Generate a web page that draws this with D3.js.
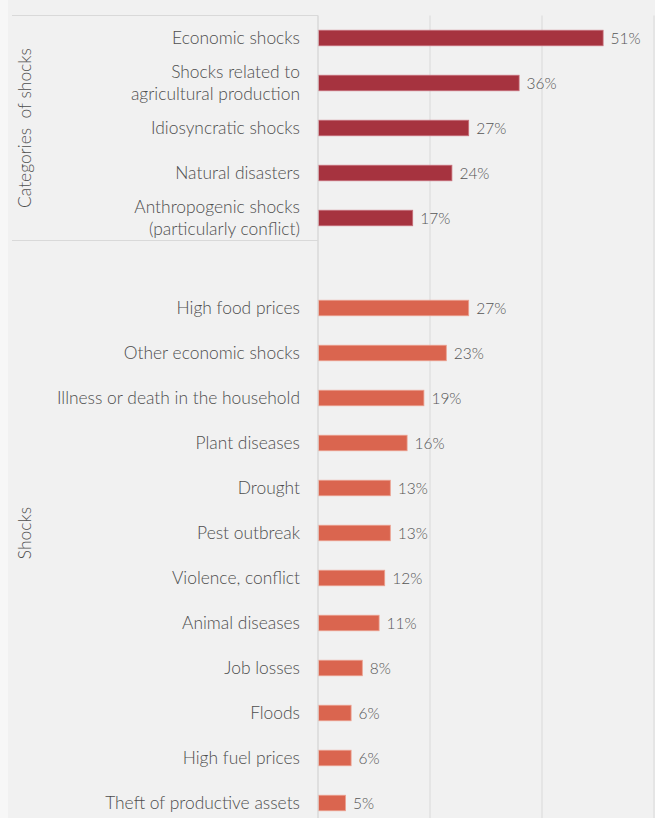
<!DOCTYPE html>
<html>
<head>
<meta charset="utf-8">
<script src="https://cdn.jsdelivr.net/npm/d3@7"></script>
<style>
  html, body { margin: 0; padding: 0; background: #f7f7f7; }
  svg { display: block; }
</style>
</head>
<body>
<div id="chart"></div>
<script>
// Share of households reporting each shock, grouped by category
const categoryLabels = [
  "Economic shocks",
  "Shocks related to\nagricultural production",
  "Idiosyncratic shocks",
  "Natural disasters",
  "Anthropogenic shocks\n(particularly conflict)"
];
const categoryValues = [51, 36, 27, 24, 17];

const shockLabels = [
  "High food prices",
  "Other economic shocks",
  "Illness or death in the household",
  "Plant diseases",
  "Drought",
  "Pest outbreak",
  "Violence, conflict",
  "Animal diseases",
  "Job losses",
  "Floods",
  "High fuel prices",
  "Theft of productive assets"
];
const shockValues = [27, 23, 19, 16, 13, 13, 12, 11, 8, 6, 6, 5];

const groupTitles = ["Categories  of shocks", "Shocks"];
const xTicks = [0, 20, 40, 60];

const W = 655, H = 818;
const plotLeft = 318, plotRight = 654, plotTop = 15.5;
const rowH = 45;

// One row per bar, plus one empty row that opens the second group
const rows = [];
categoryLabels.forEach((l, i) => rows.push({ key: "c" + i, label: l, value: categoryValues[i], group: 0 }));
rows.push({ key: "gap", label: "", value: null, group: 1 });
shockLabels.forEach((l, i) => rows.push({ key: "s" + i, label: l, value: shockValues[i], group: 1 }));

const svg = d3.select("#chart").append("svg").attr("width", W).attr("height", H);

svg.append("rect").attr("x", 8).attr("y", 0).attr("width", W - 8).attr("height", H).attr("fill", "#f1f1f1");

const x = d3.scaleLinear().domain([0, 60]).range([plotLeft, plotRight]);
const y = d3.scaleBand().domain(rows.map(r => r.key))
  .range([plotTop, plotTop + rowH * rows.length]).paddingInner(0.655).paddingOuter(0.3275);

const font = "Lato, 'Open Sans', sans-serif";
const lineCol = "#d9d9d9";
const textCol = "#4e4e4e";

// Vertical gridlines
svg.append("g").selectAll("line").data(xTicks).join("line")
  .attr("x1", d => x(d)).attr("x2", d => x(d))
  .attr("y1", plotTop).attr("y2", H)
  .attr("stroke", lineCol).attr("stroke-width", 1);

// Group extents along the category axis
const groupBounds = [
  [0, categoryLabels.length],
  [categoryLabels.length, rows.length]
].map(([a, b]) => [plotTop + a * y.step(), plotTop + b * y.step()]);

svg.append("g").selectAll("line").data([groupBounds[0][0], groupBounds[0][1]]).join("line")
  .attr("x1", 12).attr("x2", plotLeft)
  .attr("y1", d => d).attr("y2", d => d)
  .attr("stroke", lineCol).attr("stroke-width", 1);

// Bars
const colors = ["#a6333f", "#da654f"];
const strokes = ["#c7707a", "#eba08f"];
const barRows = rows.filter(r => r.value !== null);

svg.append("g").selectAll("rect").data(barRows).join("rect")
  .attr("x", x(0) + 0.5)
  .attr("y", d => y(d.key))
  .attr("width", d => x(d.value) - x(0) - 1)
  .attr("height", y.bandwidth())
  .attr("fill", d => colors[d.group])
  .attr("stroke", d => strokes[d.group])
  .attr("stroke-width", 0.8);

// Value labels
svg.append("g").selectAll("text").data(barRows).join("text")
  .attr("x", d => x(d.value) + 7)
  .attr("y", d => y(d.key) + y.bandwidth() / 2)
  .attr("dy", "0.36em")
  .attr("font-family", font).attr("font-size", 15.5).attr("font-weight", 300)
  .attr("fill", "#555555")
  .text(d => d.value + "%");

// Category labels (some wrap onto two lines)
const lab = svg.append("g").selectAll("text").data(barRows).join("text")
  .attr("text-anchor", "end")
  .attr("font-family", font).attr("font-size", 17.4).attr("font-weight", 300)
  .attr("fill", textCol);
lab.each(function (d) {
  const lines = d.label.split("\n");
  const cy = y(d.key) + y.bandwidth() / 2;
  const lh = 22.5;
  d3.select(this).selectAll("tspan").data(lines).join("tspan")
    .attr("x", 300)
    .attr("y", (l, i) => cy + (i - (lines.length - 1) / 2) * lh)
    .attr("dy", "0.35em")
    .text(l => l);
});

// Vertical axis line
svg.append("line").attr("x1", x(0)).attr("x2", x(0)).attr("y1", plotTop).attr("y2", H)
  .attr("stroke", lineCol);

// Rotated group titles
svg.append("g").selectAll("text").data(groupTitles).join("text")
  .attr("transform", (d, i) => `translate(25,${(groupBounds[i][0] + groupBounds[i][1]) / 2}) rotate(-90)`)
  .attr("text-anchor", "middle").attr("dy", "0.35em")
  .attr("font-family", font).attr("font-size", 17.4).attr("font-weight", 300)
  .attr("fill", textCol)
  .attr("xml:space", "preserve")
  .style("white-space", "pre")
  .text(d => d);
</script>
</body>
</html>
